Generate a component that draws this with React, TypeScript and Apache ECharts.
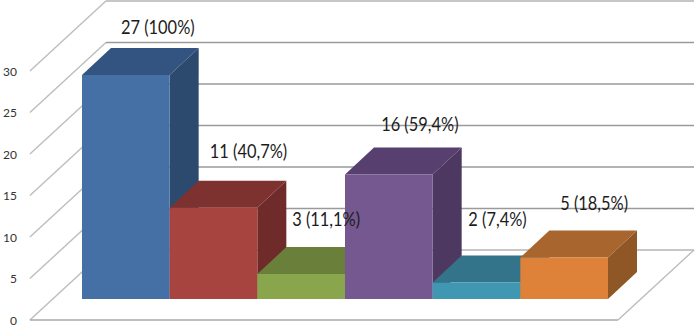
import React, { useEffect, useRef } from "react";
import * as echarts from "echarts";

const categories = ["A", "B", "C", "D", "E", "F"];
const barValues = [27, 11, 3, 15, 2, 5];
const barLabels = ["27 (100%)", "11 (40,7%)", "3 (11,1%)", "16 (59,4%)", "2 (7,4%)", "5 (18,5%)"];
const tickValues = [0, 5, 10, 15, 20, 25, 30];

const frontColors = ["#4470a6", "#a8443f", "#8aa64c", "#74588f", "#3f97b2", "#de823a"];
const topColors = ["#335380", "#7e322f", "#6a803a", "#573f70", "#33748a", "#a8652e"];
const sideColors = ["#2c4a6e", "#6e2b29", "#5a6e32", "#4c3860", "#2c6274", "#8f5626"];
const labelNudges = [[32, -48], [35, -57], [25, -55], [31, -50], [21, -63], [30, -54]];

const BAR_DX = 29;
const BAR_DY = -27;
const WALL_DX = 76;
const WALL_DY = -70;
const WALL_RIGHT = 694;
const FONT = "Lato, 'Noto Sans', sans-serif";

export default function App() {
  const ref = useRef<HTMLDivElement>(null);
  useEffect(() => {
    const chart = echarts.init(ref.current!, null, { renderer: "svg" });
    chart.setOption({
      animation: false,
      backgroundColor: "#ffffff",
      grid: [
        { left: 82, top: 50, width: 526, height: 249 },
        { left: 26, top: 71, width: 592, height: 249 },
      ],
      xAxis: [
        { type: "category", gridIndex: 0, data: categories, show: false, boundaryGap: true },
        { type: "value", gridIndex: 1, min: 0, max: 1, show: false },
      ],
      yAxis: [
        { type: "value", gridIndex: 0, min: 0, max: 30, interval: 5, show: false },
        {
          type: "value",
          gridIndex: 1,
          min: 0,
          max: 30,
          interval: 5,
          axisLine: { show: false },
          axisTick: { show: false },
          splitLine: { show: false },
          axisLabel: { color: "#333333", fontSize: 12, fontFamily: FONT, margin: 13 },
        },
      ],
      series: [
        {
          type: "custom",
          xAxisIndex: 1,
          yAxisIndex: 1,
          z: 1,
          silent: true,
          data: tickValues.map((v) => [0, v]),
          encode: { x: 0, y: 1 },
          renderItem: (params: any, api: any) => {
            const v = api.value(1);
            const p = api.coord([0, v]);
            const bx = p[0] + WALL_DX;
            const by = p[1] + WALL_DY;
            const wall = v === 0 || v === 30 ? "#b4b4b4" : "#9a9a9a";
            const children: any[] = [
              { type: "line", shape: { x1: p[0], y1: p[1], x2: bx, y2: by }, style: { stroke: "#bdbdbd", lineWidth: 1.4 } },
              { type: "line", shape: { x1: bx, y1: by, x2: WALL_RIGHT, y2: by }, style: { stroke: wall, lineWidth: 1.5 } },
            ];
            if (v === 0) {
              const e = api.coord([1, 0]);
              children.push(
                { type: "line", shape: { x1: p[0], y1: p[1], x2: e[0], y2: e[1] }, style: { stroke: "#a8a8a8", lineWidth: 1.4 } },
                { type: "line", shape: { x1: e[0], y1: e[1], x2: e[0] + WALL_DX, y2: e[1] + WALL_DY }, style: { stroke: "#bdbdbd", lineWidth: 1.4 } }
              );
            }
            return { type: "group", children };
          },
        },
        {
          type: "custom",
          xAxisIndex: 0,
          yAxisIndex: 0,
          z: 2,
          silent: true,
          data: barValues.map((v, i) => [i, v]),
          encode: { x: 0, y: 1 },
          renderItem: (params: any, api: any) => {
            const i = params.dataIndex;
            const c = api.coord([api.value(0), api.value(1)]);
            const base = api.coord([api.value(0), 0]);
            const w = api.size([1, 0])[0];
            const l = c[0] - w / 2;
            const r = c[0] + w / 2;
            const t = c[1];
            const b = base[1];
            return {
              type: "group",
              children: [
                {
                  type: "polygon",
                  shape: { points: [[r, t], [r + BAR_DX, t + BAR_DY], [r + BAR_DX, b + BAR_DY], [r, b]] },
                  style: { fill: sideColors[i] },
                },
                {
                  type: "polygon",
                  shape: { points: [[l, t], [l + BAR_DX, t + BAR_DY], [r + BAR_DX, t + BAR_DY], [r, t]] },
                  style: { fill: topColors[i] },
                },
                { type: "rect", shape: { x: l, y: t, width: w, height: b - t }, style: { fill: frontColors[i] } },
              ],
            };
          },
        },
        {
          type: "custom",
          xAxisIndex: 0,
          yAxisIndex: 0,
          z: 3,
          silent: true,
          data: barValues.map((v, i) => [i, v]),
          encode: { x: 0, y: 1 },
          renderItem: (params: any, api: any) => {
            const i = params.dataIndex;
            const c = api.coord([api.value(0), api.value(1)]);
            return {
              type: "text",
              x: c[0] + labelNudges[i][0],
              y: c[1] + labelNudges[i][1],
              scaleY: 1.12,
              style: {
                text: barLabels[i],
                fill: "#1c1c1c",
                font: `16.4px ${FONT}`,
                align: "center",
                verticalAlign: "middle",
              },
            };
          },
        },
      ],
    });
    return () => chart.dispose();
  }, []);
  return <div ref={ref} style={{ position: "absolute", left: 0, top: 0, width: 695, height: 326 }} />;
}
